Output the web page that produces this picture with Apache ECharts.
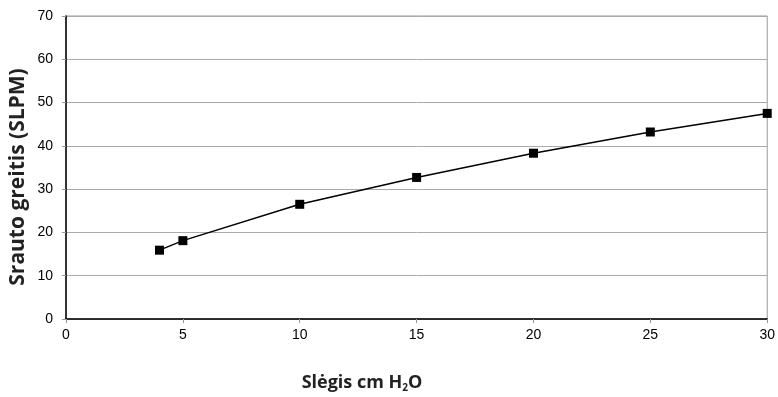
<!DOCTYPE html>
<html><head><meta charset="utf-8">
<script src="https://cdn.jsdelivr.net/npm/echarts@6/dist/echarts.min.js"></script>
<style>html,body{margin:0;padding:0;background:#fff}#c{width:778px;height:397px}</style>
</head><body><div id="c"></div>
<script>
const pressure = [4, 5, 10, 15, 20, 25, 30];
const flow = [15.9, 18.1, 26.5, 32.7, 38.3, 43.2, 47.5];
const xTicks = [0, 5, 10, 15, 20, 25, 30];
const yTicks = [0, 10, 20, 30, 40, 50, 60, 70];
const xTitle = ['Slėgis cm H', '2', 'O'];
const yTitle = 'Srauto greitis (SLPM)';

const chart = echarts.init(document.getElementById('c'));
chart.setOption({
  animation: false,
  backgroundColor: '#fff',
  grid: {left: 66, right: 10, top: 16, bottom: 78, show: true, borderColor: '#999', borderWidth: 1},
  xAxis: {
    type: 'value', min: xTicks[0], max: xTicks[xTicks.length-1], interval: 5,
    axisLine: {show: true, onZero: false, lineStyle: {color: '#000', width: 1.5}},
    axisTick: {show: true, length: 4, lineStyle: {color: '#999'}},
    splitLine: {show: false},
    axisLabel: {color: '#000', fontFamily: 'Liberation Sans', fontSize: 14, margin: 9}
  },
  yAxis: {
    type: 'value', min: yTicks[0], max: yTicks[yTicks.length-1], interval: 10,
    axisLine: {show: true, lineStyle: {color: '#000', width: 1.5}},
    axisTick: {show: true, length: 4, lineStyle: {color: '#999'}},
    splitLine: {show: true, lineStyle: {color: '#aaa', width: 1}},
    axisLabel: {color: '#000', fontFamily: 'Liberation Sans', fontSize: 14, margin: 13}
  },
  graphic: [
    {type: 'text', x: 18, y: 177, rotation: Math.PI/2,
      style: {text: yTitle, fontFamily: 'Open Sans', fontWeight: 'bold', fontSize: 21, fill: '#222',
        align: 'center', verticalAlign: 'middle'}},
    {type: 'text', x: 362, y: 383,
      style: {text: '{a|' + xTitle[0] + '}{s|' + xTitle[1] + '}{a|' + xTitle[2] + '}',
        align: 'center', verticalAlign: 'middle',
        rich: {
          a: {fontFamily: 'Open Sans', fontWeight: 'bold', fontSize: 18, fill: '#222'},
          s: {fontFamily: 'Open Sans', fontWeight: 'bold', fontSize: 10, fill: '#222', padding: [10, 0, 0, 0]}
        }}}
  ],
  series: [{
    type: 'line',
    data: pressure.map((p, i) => [p, flow[i]]),
    symbol: 'rect', symbolSize: 9,
    itemStyle: {color: '#000'},
    lineStyle: {color: '#000', width: 1.5}
  }]
});
</script></body></html>
